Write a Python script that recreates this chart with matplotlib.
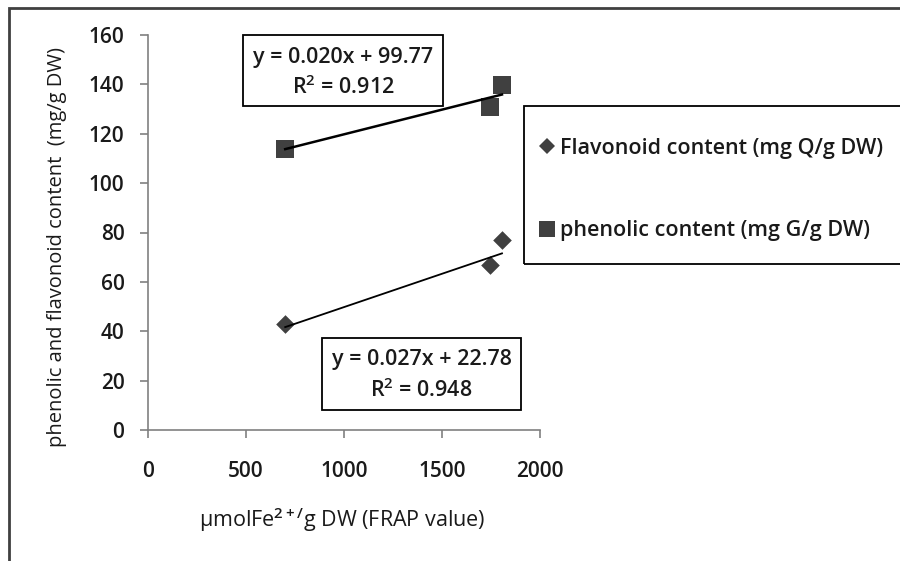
import matplotlib
matplotlib.use("Agg")
import matplotlib.pyplot as plt
from matplotlib.patches import Rectangle
from matplotlib.lines import Line2D

# ---- data ----
frap = [700, 1745, 1806]
flavonoid = [42.8, 66.8, 77.0]
phenolic = [113.8, 130.8, 139.8]
flav_fit = [0.027, 22.78]   # slope, intercept
phen_fit = [0.020, 99.77]
flav_eq = ["y = 0.027x + 22.78", "R$^2$ = 0.948"]
phen_eq = ["y = 0.020x + 99.77", "R$^2$ = 0.912"]
xticks = [0, 500, 1000, 1500, 2000]
yticks = [0, 20, 40, 60, 80, 100, 120, 140, 160]
label_flav = "Flavonoid content (mg Q/g DW)"
label_phen = "phenolic content (mg G/g DW)"
xlabel = r"μmolFe$^{2+/}$g DW (FRAP value)"
ylabel = "phenolic and flavonoid content  (mg/g DW)"

W, H = 900, 561
fig = plt.figure(figsize=(9, 5.61), dpi=100)
FONT = "Open Sans"
plt.rcParams['font.family'] = [FONT, 'DejaVu Sans']
plt.rcParams['font.weight'] = 'semibold'
plt.rcParams['mathtext.fontset'] = 'custom'
plt.rcParams['mathtext.rm'] = FONT + ':semibold'
plt.rcParams['mathtext.it'] = FONT + ':semibold'
TXT = '#1a1a1a'

def fx(px):
    return px / W

def fy(py):
    return 1 - py / H

ax = fig.add_axes([fx(148), fy(430), fx(540) - fx(148), (430 - 35) / H])
mcol = "#404040"

ax.scatter(frap, phenolic, marker='s', s=180, color=mcol, zorder=3, linewidths=0)
ax.scatter(frap, flavonoid, marker='D', s=90, color=mcol, zorder=3, linewidths=0)

xs = [min(frap), max(frap)]
ax.plot(xs, [phen_fit[0] * x + phen_fit[1] for x in xs], color='black', lw=1.8, zorder=4)
ax.plot(xs, [flav_fit[0] * x + flav_fit[1] for x in xs], color='black', lw=1.3, zorder=4)

ax.set_xlim(0, 2000)
ax.set_ylim(0, 160)
ax.set_xticks(xticks)
ax.set_yticks(yticks)
for s in ['top', 'right']:
    ax.spines[s].set_visible(False)
for s in ['left', 'bottom']:
    ax.spines[s].set_color('#808080')
    ax.spines[s].set_linewidth(1.2)
ax.tick_params(axis='both', direction='out', length=6, width=1.2, color='#808080',
               labelsize=15, labelcolor=TXT)
ax.tick_params(axis='x', pad=16)
ax.tick_params(axis='y', pad=11)
ax.set_xlabel(xlabel, fontsize=15.5, color=TXT)
ax.xaxis.set_label_coords((342 - 148) / 392, -(520 - 430) / 395)
ax.xaxis.label.set_va('center')
ax.set_ylabel(ylabel, fontsize=14.5, color=TXT)
ax.yaxis.set_label_coords(-(148 - 57) / 392, (430 - 247) / 395)
ax.yaxis.label.set_va('center')

# equation boxes
def eqbox(x0, y0, x1, y1, l1y, l2y, lines):
    fig.patches.append(Rectangle((fx(x0), fy(y1)), fx(x1) - fx(x0), (y1 - y0) / H,
                                 transform=fig.transFigure, fill=True, facecolor='white',
                                 edgecolor='black', lw=1.3, zorder=5))
    cx = (x0 + x1) / 2
    fig.text(fx(cx), fy(l1y), lines[0], ha='center', va='center', fontsize=15.5,
             color=TXT, zorder=6)
    fig.text(fx(cx), fy(l2y), lines[1], ha='center', va='center', fontsize=15.5,
             color=TXT, zorder=6)

eqbox(243, 35, 443, 106, 57, 87, phen_eq)
eqbox(322, 338, 521, 410, 360, 390, flav_eq)

# legend
fig.patches.append(Rectangle((fx(524), fy(264)), 1.0, (264 - 106) / H,
                             transform=fig.transFigure, fill=False,
                             edgecolor='black', lw=1.3, clip_on=False))
handles = [Line2D([], [], marker='D', ls='none', color=mcol, markersize=8.5, mew=0),
           Line2D([], [], marker='s', ls='none', color=mcol, markersize=11, mew=0)]
leg = fig.legend(handles, [label_flav, label_phen], loc='upper left',
                 bbox_to_anchor=(fx(538), fy(138)), frameon=False, fontsize=15.5,
                 handlelength=0.8, handletextpad=0.2, labelspacing=2.85, borderpad=0.0,
                 borderaxespad=0)
for t in leg.get_texts():
    t.set_color(TXT)

# outer frame
fig.patches.append(Rectangle((fx(8.5), -0.1), 1.2, 1.1 - 8 / H, transform=fig.transFigure,
                             fill=False, edgecolor='#404040', lw=2, clip_on=False))

fig.savefig("out.png", dpi=100)
